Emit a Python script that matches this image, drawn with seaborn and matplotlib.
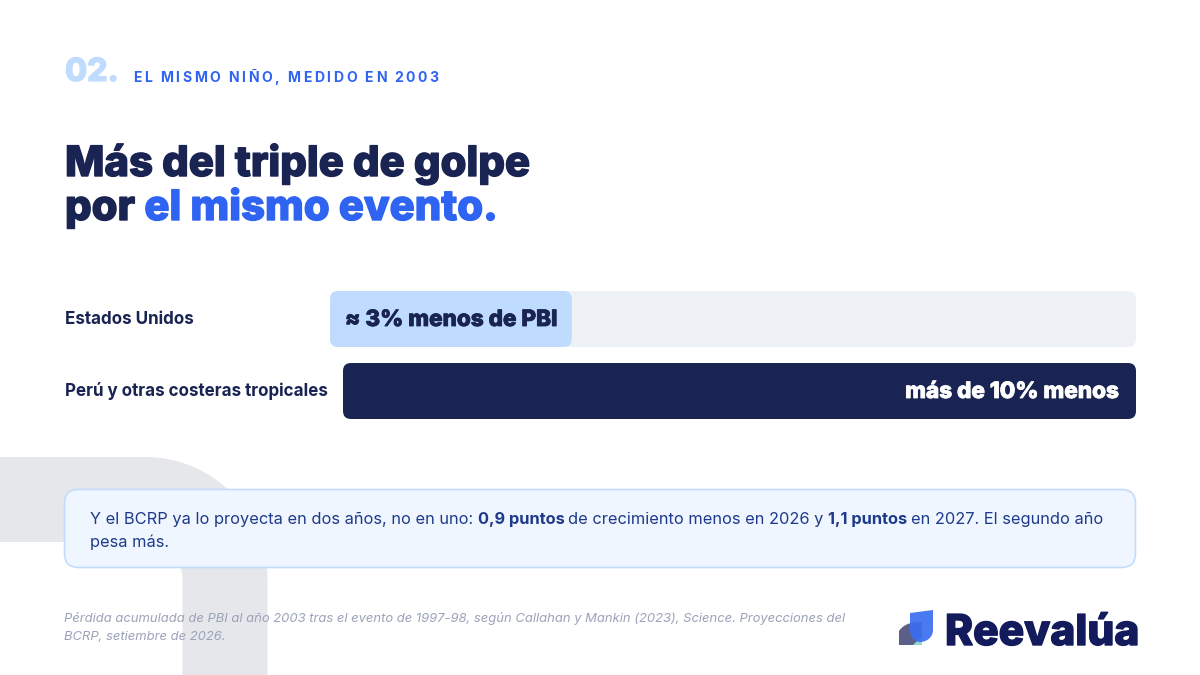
import matplotlib
matplotlib.use("Agg")
import matplotlib.pyplot as plt
import matplotlib.patheffects as pe
from matplotlib.patches import FancyBboxPatch, PathPatch
from matplotlib.path import Path
import seaborn as sns

# data
categories = ["Estados Unidos", "Perú y otras costeras tropicales"]
loss_pct = [3, 10]
bar_labels = ["≈ 3% menos de PBI", "más de 10% menos"]
scale_max = 10

section_num = "02."
section_txt = "EL MISMO NIÑO, MEDIDO EN 2003"
title_l1 = "Más del triple de golpe"
title_l2 = [("por ", "navy"), ("el mismo evento.", "blue")]
callout_l1 = [("Y el BCRP ya lo proyecta en dos años, no en uno: ", "normal"), ("0,9 puntos ", "bold"),
              ("de crecimiento menos en 2026 y ", "normal"), ("1,1 puntos ", "bold"),
              ("en 2027. El segundo año", "normal")]
callout_l2 = "pesa más."
footer = ["Pérdida acumulada de PBI al año 2003 tras el evento de 1997-98, según Callahan y Mankin (2023), Science. Proyecciones del",
          "BCRP, setiembre de 2026."]
brand = "Reevalúa"

NAVY = "#1a2452"
BLUE = "#2f63f2"
LIGHT = "#bfdbfe"
TRACK = "#eef2f7"
GRAY = "#e5e7eb"
CALL_TXT = "#1e3a8a"

sns.set_style("white")
plt.rcParams["font.family"] = ["Inter", "DejaVu Sans"]

fig = plt.figure(figsize=(12, 6.75), dpi=100)
bg = fig.add_axes([0, 0, 1, 1])
bg.set_xlim(0, 1200)
bg.set_ylim(675, 0)
bg.axis("off")
R = fig.canvas.get_renderer()


def pt(px):
    return px * 0.72


def fat(color, w=1.0):
    # thicken the glyphs a little, the installed Inter stops at extra-bold
    return [pe.withStroke(linewidth=w, foreground=color)]


def width(s, **kw):
    t = bg.text(0, 0, s, **kw)
    w = t.get_window_extent(renderer=R).width
    t.remove()
    return w


def runs(x, y, parts, **common):
    for s, kw in parts:
        props = dict(common, **kw)
        core = s.rstrip(" ")
        bg.text(x, y, core, **props)
        x += width(core, **props)
        n = len(s) - len(core)
        if n:
            x += n * (width("x x", **props) - width("xx", **props))
    return x


# big gray hook in the background
k = 0.5523
r = 80
cx, cy = 225 - r, 499.5 + r
verts = [(-20, 499.5), (cx, 499.5),
         (cx + k * r, 499.5), (225, cy - k * r), (225, cy),
         (225, 720)]
codes = [Path.MOVETO, Path.LINETO, Path.CURVE4, Path.CURVE4, Path.CURVE4, Path.LINETO]
bg.add_patch(PathPatch(Path(verts, codes), fill=False, edgecolor=GRAY, lw=pt(85), capstyle="butt", zorder=0))

# header
bg.text(65, 81, section_num, fontsize=pt(32), fontweight="heavy", color=LIGHT, va="baseline",
        path_effects=fat(LIGHT, 0.8))
x = 133
for ch in section_txt:
    if ch == " ":
        x += 5.2
        continue
    bg.text(x, 82, ch, fontsize=pt(14), fontweight="bold", color=BLUE, va="baseline")
    x += width(ch, fontsize=pt(14), fontweight="bold") + 2.65

# title
bg.text(65, 176, title_l1, fontsize=pt(41.8), fontweight="heavy", color=NAVY, va="baseline",
        path_effects=fat(NAVY, 1.0))
x = 65
for s, c in title_l2:
    col = NAVY if c == "navy" else BLUE
    x = runs(x, 220, [(s, {"color": col, "path_effects": fat(col, 1.0)})],
             fontsize=pt(41.8), fontweight="heavy", va="baseline")

# bars: one axes per row, both on the same 0-10 scale
rows = [(330, 291, 1136, 347), (343, 363, 1136, 419)]
bar_colors = [LIGHT, NAVY]
for i, (x0, y0, x1, y1) in enumerate(rows):
    ax = fig.add_axes([x0 / 1200, 1 - y1 / 675, (x1 - x0) / 1200, (y1 - y0) / 675])
    sns.barplot(x=[loss_pct[i]], y=[categories[i]], orient="h", width=1, color=bar_colors[i], ax=ax)
    ax.set_xlim(0, scale_max)
    ax.set_ylim(0.5, -0.5)
    ax.axis("off")
    inv = bg.transData.inverted()
    # track
    bg.add_patch(FancyBboxPatch((x0, y0), x1 - x0, y1 - y0, boxstyle="round,pad=0,rounding_size=8",
                                fc=TRACK, ec="none", zorder=1))
    for p in ax.patches:
        p.set_visible(False)
        (a, b), (c, d) = inv.transform(ax.transData.transform([(p.get_x(), p.get_y()),
                                                               (p.get_x() + p.get_width(), p.get_y() + p.get_height())]))
        bg.add_patch(FancyBboxPatch((min(a, c), min(b, d)), abs(c - a), abs(d - b),
                                    boxstyle="round,pad=0,rounding_size=8",
                                    fc=bar_colors[i], ec="none", zorder=2))
    ymid = (y0 + y1) / 2
    bg.text(65, ymid, categories[i], fontsize=pt(17), fontweight="bold", color=NAVY, va="center")
    if i == 0:
        bg.text(x0 + 15, ymid + 1, bar_labels[i], fontsize=pt(22.5), fontweight="heavy", color=NAVY,
                va="center", zorder=3, path_effects=fat(NAVY, 0.6))
    else:
        bg.text(x1 - 18, ymid + 1, bar_labels[i], fontsize=pt(22.5), fontweight="heavy", color="white",
                va="center", ha="right", zorder=3, path_effects=fat("white", 0.6))

# callout
bg.add_patch(FancyBboxPatch((64.5, 489.5), 1071, 78, boxstyle="round,pad=0,rounding_size=14",
                            fc="#eff6ff", ec="#c3dcfb", lw=1.2, zorder=3))
runs(90, 524, [(s, {"fontweight": "bold" if w == "bold" else "normal"}) for s, w in callout_l1],
     fontsize=pt(16.4), color=CALL_TXT, va="baseline", zorder=4)
bg.text(90, 547, callout_l2, fontsize=pt(16.4), color=CALL_TXT, va="baseline", zorder=4)

# footer
for j, line in enumerate(footer):
    bg.text(64, 622 + j * 17.5, line, fontsize=pt(13), style="italic", color="#9aa3b8", va="baseline", zorder=4)

# logo
blue_leaf = Path([(910, 613), (933, 610), (933, 630), (933, 637), (927, 642), (920, 642),
                  (914, 642), (910, 636), (910, 630), (910, 613)],
                 [Path.MOVETO, Path.LINETO, Path.LINETO, Path.CURVE4, Path.CURVE4, Path.CURVE4,
                  Path.CURVE4, Path.CURVE4, Path.CURVE4, Path.CLOSEPOLY])
gray_leaf = Path([(899, 645), (899, 631), (905, 622), (916, 622), (922, 622), (922, 645), (899, 645)],
                 [Path.MOVETO, Path.LINETO, Path.CURVE4, Path.CURVE4, Path.LINETO, Path.LINETO, Path.CLOSEPOLY])
teal = Path([(913, 645), (922, 636), (922, 645), (913, 645)],
            [Path.MOVETO, Path.LINETO, Path.LINETO, Path.CLOSEPOLY])
bg.add_patch(PathPatch(gray_leaf, fc="#5c5f88", ec="none", zorder=4))
bg.add_patch(PathPatch(teal, fc="#8fd6cf", ec="none", zorder=5))
bg.add_patch(PathPatch(blue_leaf, fc="#3a6ef0", ec="none", alpha=0.92, zorder=5))
bg.text(945, 645, brand, fontsize=pt(42.5), fontweight="heavy", color="#141b5c", va="baseline", zorder=4,
        path_effects=fat("#141b5c", 1.0))

fig.savefig("out.png", dpi=100, facecolor="white")
